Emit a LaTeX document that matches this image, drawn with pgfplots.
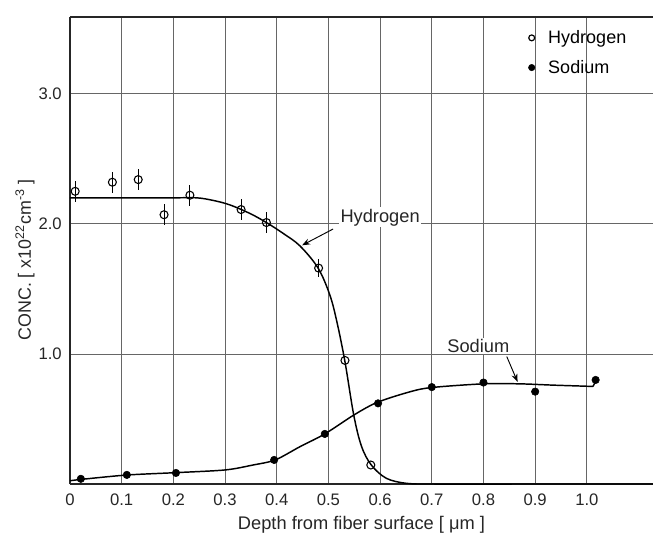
\documentclass[border=0pt]{standalone}
\usepackage{pgfplots}
\pgfplotsset{compat=1.18}
\usepackage{fontspec}
\setmainfont{Liberation Sans}
\usetikzlibrary{arrows.meta}

\begin{document}
\begin{tikzpicture}
\begin{axis}[
    width=437.25pt, height=350.25pt, scale only axis,
    xmin=0, xmax=1.128, ymin=0, ymax=3.59,
    axis x line*=bottom, axis y line*=left,
    axis line style={line width=1.1pt, black!85},
    xtick={0,0.1,0.2,0.3,0.4,0.5,0.6,0.7,0.8,0.9,1.0},
    xticklabels={0,0.1,0.2,0.3,0.4,0.5,0.6,0.7,0.8,0.9,1.0},
    ytick={1,2,3},
    yticklabels={1.0,2.0,3.0},
    major tick length=0pt,
    xmajorgrids=true, ymajorgrids=true,
    grid style={black!60, line width=0.6pt},
    tick label style={font=\fontsize{12.5}{14}\selectfont, black!85},
    xticklabel style={anchor=center, yshift=-12pt},
    yticklabel style={anchor=east, inner sep=0pt, xshift=-6pt},
    xlabel={Depth from fiber surface [ μm ]},
    ylabel={CONC. [ x10\textsuperscript{22}cm\textsuperscript{-3} ]},
    xlabel style={font=\fontsize{13.7}{15}\selectfont, black!85,
        at={(axis description cs:0.5,0)}, anchor=center, yshift=-30.5pt},
    ylabel style={font=\fontsize{13.4}{15}\selectfont, black!85,
        at={(axis description cs:0,0.48)}, anchor=center, yshift=33.75pt},
    legend style={at={(rel axis cs:0.786,0.972)}, anchor=north west,
        draw=none, fill=none, font=\fontsize{13.5}{15}\selectfont,
        inner sep=0pt, row sep=11pt, column sep=10pt,
        nodes={inner sep=0pt}},
    legend cell align=left,
    clip=false,
]
\draw[line width=1.1pt, black!85] (rel axis cs:0,1) -- (rel axis cs:1,1);
\coordinate (bl) at (rel axis cs:0,0);
\coordinate (tr) at (rel axis cs:1,1);

% fitted curves
\addplot[black, line width=1.1pt, smooth, tension=0.55, forget plot] coordinates {
    (0,2.2) (0.1,2.2) (0.2,2.2) (0.245,2.2) (0.277,2.18) (0.309,2.146)
    (0.348,2.08) (0.380,2.01) (0.413,1.925) (0.445,1.83) (0.480,1.66)
    (0.503,1.45) (0.517,1.236) (0.532,0.94) (0.549,0.53) (0.564,0.29)
    (0.583,0.146) (0.612,0.044) (0.651,0.005) (0.7,0) (0.9,0) (1.128,0)
};
\addplot[black, line width=1.1pt, smooth, tension=0.5, forget plot] coordinates {
    (0.0,0.025) (0.023,0.036) (0.11,0.069) (0.203,0.087) (0.3,0.108)
    (0.354,0.146) (0.397,0.185) (0.445,0.287) (0.493,0.385) (0.549,0.53)
    (0.593,0.625) (0.65,0.70) (0.696,0.74) (0.80,0.77) (0.87,0.77)
    (0.935,0.76) (1.012,0.75)
};
\addplot[black, line width=1.1pt, forget plot] coordinates {(1.012,0.75) (1.017,0.79)};

% hydrogen data
\addplot[black, only marks, mark=o, mark size=3pt, mark options={fill=white, line width=0.8pt}, forget plot,
    error bars/.cd, y dir=both, y explicit,
    error bar style={line width=0.8pt}, error mark=none]
  coordinates {
    (0.01,2.25) +- (0,0.08)
    (0.082,2.32) +- (0,0.08)
    (0.132,2.34) +- (0,0.08)
    (0.182,2.07) +- (0,0.08)
    (0.232,2.22) +- (0,0.08)
    (0.331,2.11) +- (0,0.08)
    (0.38,2.01) +- (0,0.08)
    (0.481,1.66) +- (0,0.07)
    (0.532,0.95) +- (0,0)
    (0.582,0.146) +- (0,0)
};
% sodium data
\addplot[black, only marks, mark=*, mark size=2.8pt, forget plot] coordinates {
    (0.021,0.04) (0.11,0.07) (0.205,0.085) (0.395,0.185) (0.493,0.385)
    (0.596,0.62) (0.70,0.745) (0.80,0.78) (0.90,0.71) (1.017,0.80)
};

\addlegendimage{only marks, mark=o, mark size=2.2pt, black, line width=0.9pt}
\addlegendentry{Hydrogen}
\addlegendimage{only marks, mark=*, mark size=2.4pt, black}
\addlegendentry{Sodium}

% annotations
\node[fill=white, inner sep=1pt, text=black!85, font=\fontsize{13.7}{15}\selectfont] at (axis cs:0.60,2.05) {Hydrogen};
\draw[-{Stealth[length=6pt]}, line width=0.7pt] (axis cs:0.509,1.96) -- (axis cs:0.449,1.835);
\node[fill=white, inner sep=1pt, text=black!85, font=\fontsize{13.7}{15}\selectfont] at (axis cs:0.79,1.06) {Sodium};
\draw[-{Stealth[length=6pt]}, line width=0.7pt] (axis cs:0.845,0.98) -- (axis cs:0.866,0.785);
\end{axis}
\pgfresetboundingbox
\path[use as bounding box] ([shift={(-52.5pt,-36.75pt)}]bl) rectangle ([shift={(0pt,12.75pt)}]tr);
\end{tikzpicture}
\end{document}
